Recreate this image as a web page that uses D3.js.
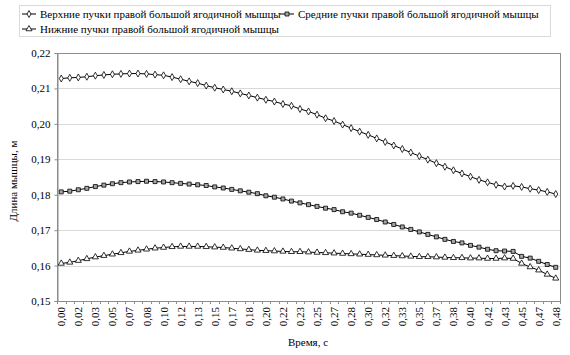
<!DOCTYPE html>
<html><head><meta charset="utf-8">
<script src="https://cdn.jsdelivr.net/npm/d3@7"></script>
<style>body{margin:0;background:#fff}svg text{font-family:'Liberation Serif','Times New Roman','DejaVu Serif',serif}</style>
</head><body><svg id="c" width="570" height="355"></svg>
<script>
const seriesNames = ["Верхние пучки правой большой ягодичной мышцы","Средние пучки правой большой ягодичной мышцы","Нижние пучки правой большой ягодичной мышцы"];
const upper = [0.2128,0.2130,0.2131,0.2133,0.2136,0.2138,0.2140,0.2141,0.2142,0.2142,
0.2141,0.2139,0.2137,0.2132,0.2126,0.2120,0.2115,0.2108,0.2102,0.2097,
0.2092,0.2086,0.2080,0.2074,0.2068,0.2063,0.2056,0.2051,0.2042,0.2035,
0.2026,0.2016,0.2008,0.1998,0.1988,0.1978,0.1969,0.1959,0.1949,0.1939,
0.1929,0.1919,0.1909,0.1899,0.1889,0.1879,0.1869,0.1860,0.1851,0.1842,
0.1835,0.1828,0.1823,0.1825,0.1822,0.1817,0.1813,0.1808,0.1802];
const middle = [0.1808,0.1810,0.1814,0.1818,0.1823,0.1827,0.1831,0.1834,0.1836,0.1837,
0.1838,0.1837,0.1836,0.1834,0.1832,0.1830,0.1828,0.1826,0.1822,0.1819,
0.1815,0.1811,0.1807,0.1803,0.1797,0.1793,0.1788,0.1782,0.1777,0.1772,
0.1767,0.1762,0.1758,0.1752,0.1748,0.1742,0.1736,0.1730,0.1723,0.1716,
0.1709,0.1702,0.1695,0.1688,0.1681,0.1674,0.1668,0.1664,0.1657,0.1652,
0.1646,0.1642,0.1641,0.1640,0.1626,0.1621,0.1612,0.1603,0.1595];
const lower = [0.1606,0.1609,0.1614,0.1619,0.1624,0.1628,0.1632,0.1636,0.1640,0.1643,
0.1646,0.1649,0.1651,0.1653,0.1654,0.1654,0.1654,0.1653,0.1652,0.1651,
0.1649,0.1647,0.1645,0.1643,0.1642,0.1641,0.1640,0.1639,0.1639,0.1638,
0.1637,0.1636,0.1635,0.1634,0.1633,0.1632,0.1631,0.1630,0.1629,0.1628,
0.1627,0.1626,0.1625,0.1625,0.1624,0.1623,0.1622,0.1622,0.1621,0.1621,
0.1620,0.1620,0.1621,0.1620,0.1606,0.1596,0.1587,0.1575,0.1564];
// time categories (labels shown on every second category)
const timeLabels = ["0,00","0,02","0,03","0,05","0,07","0,08","0,10","0,12","0,13","0,15",
"0,17","0,18","0,20","0,22","0,23","0,25","0,27","0,28","0,30","0,32",
"0,33","0,35","0,37","0,38","0,40","0,42","0,43","0,45","0,47","0,48"];
const yTicks = [0.15,0.16,0.17,0.18,0.19,0.20,0.21,0.22];

const FONT = "'Liberation Serif','Times New Roman','DejaVu Serif',serif";
const svg = d3.select("#c").attr("font-family",FONT);
const L=57, R=560, T=53, B=301;
const n = upper.length;
const cats = d3.range(n);
const x = d3.scaleBand().domain(cats).range([L,R]).padding(0);
const xc = i => x(i) + x.bandwidth()/2;
const y = d3.scaleLinear().domain([0.15,0.22]).range([B,T]);
const fmt = v => d3.format(".2f")(v).replace(".",",");

// gridlines
svg.append("g").selectAll("line").data(yTicks.slice(1)).join("line")
  .attr("x1",L).attr("x2",R).attr("y1",d=>Math.round(y(d))+0.5).attr("y2",d=>Math.round(y(d))+0.5)
  .attr("stroke","#d9d9d9").attr("stroke-width",1);
// frame
svg.append("rect").attr("x",L+0.5).attr("y",T+0.5).attr("width",R-L).attr("height",B-T)
  .attr("fill","none").attr("stroke","#8c8c8c");

// y axis
const ya = svg.append("g").attr("transform",`translate(${L+0.5},0)`)
  .call(d3.axisLeft(y).tickValues(yTicks).tickFormat(fmt).tickSize(3).tickPadding(4));
ya.attr("font-family",FONT).attr("font-size",11);
ya.select(".domain").attr("stroke","#8c8c8c");
ya.selectAll(".tick line").attr("stroke","#8c8c8c");
ya.selectAll("text").attr("fill","#000");

// x axis: ticks at category boundaries
const bounds = d3.range(n+1).map(i => L + i*x.bandwidth());
svg.append("g").selectAll("line").data(bounds).join("line")
  .attr("x1",d=>Math.round(d)+0.5).attr("x2",d=>Math.round(d)+0.5).attr("y1",B).attr("y2",B+3)
  .attr("stroke","#8c8c8c");
svg.append("g").selectAll("text").data(timeLabels).join("text")
  .attr("transform",(d,k)=>`translate(${xc(k*2)+4},${B+6}) rotate(-90)`)
  .attr("text-anchor","end").attr("font-size",11).text(d=>d);

// axis titles
svg.append("text").attr("x",308).attr("y",346).attr("text-anchor","middle").attr("font-size",11).text("Время, с");
svg.append("text").attr("transform",`translate(17,${(T+B)/2+4}) rotate(-90)`).attr("text-anchor","middle").attr("font-size",11).text("Длина мышцы, м");

// series
const data = [upper, middle, lower];
const symbols = [d3.symbolDiamond, d3.symbolSquare, d3.symbolTriangle];
const sizes = [14, 16, 16];
const fills = ["#fff","#a6a6a6","#fff"];
const line = d3.line().x((d,i)=>xc(i)).y(d=>y(d));
data.forEach((s,k)=>{
  svg.append("path").datum(s).attr("d",line).attr("fill","none").attr("stroke","#000").attr("stroke-width",1);
  svg.append("g").selectAll("path").data(s).join("path")
    .attr("d",d3.symbol().type(symbols[k]).size(sizes[k]))
    .attr("transform",(d,i)=>`translate(${xc(i)},${y(d)})`)
    .attr("fill",fills[k]).attr("stroke","#000").attr("stroke-width",0.8);
});

// legend
svg.append("rect").attr("x",19.5).attr("y",5.5).attr("width",531).attr("height",31)
  .attr("fill","#fff").attr("stroke","#d9d9d9");
const lp = [[22,14],[280,14],[22,29]];
lp.forEach((p,k)=>{
  const g = svg.append("g").attr("transform",`translate(${p[0]},${p[1]})`);
  g.append("line").attr("x1",0).attr("x2",14).attr("stroke","#000");
  g.append("path").attr("d",d3.symbol().type(symbols[k]).size(sizes[k])()).attr("transform","translate(7,0)")
    .attr("fill",fills[k]).attr("stroke","#000").attr("stroke-width",0.8);
  g.append("text").attr("x",18).attr("y",4).attr("font-size",11).text(seriesNames[k]);
});
</script></body></html>
